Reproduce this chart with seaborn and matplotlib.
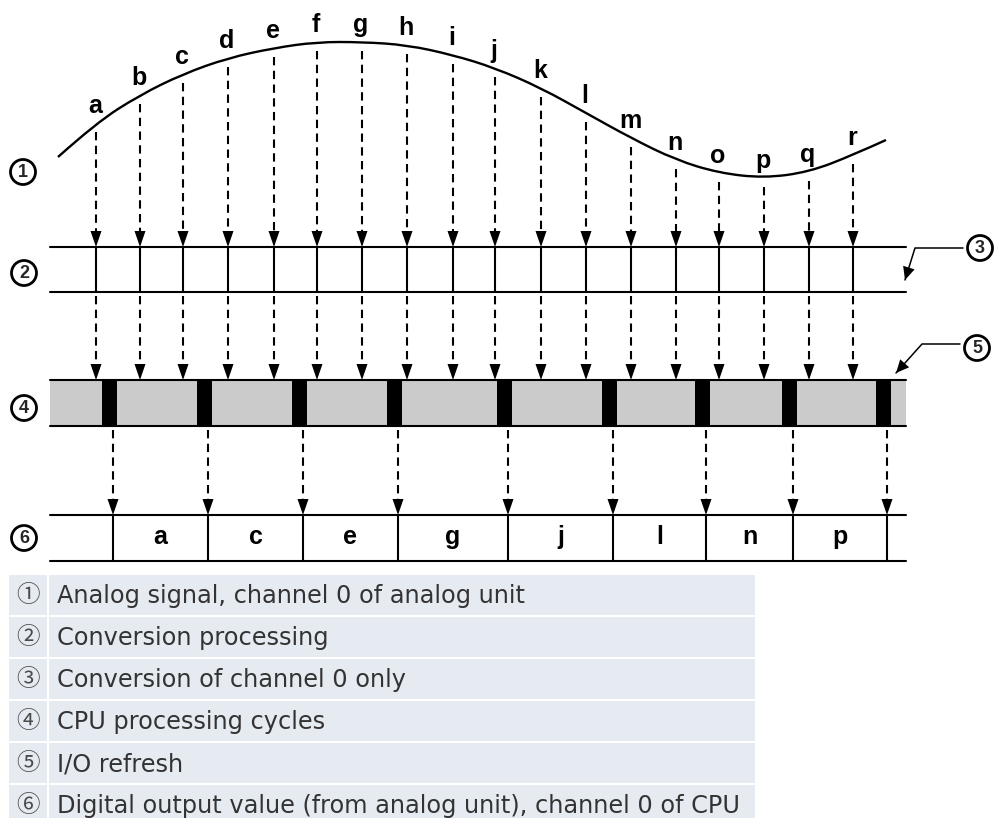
import matplotlib
matplotlib.use("Agg")
import matplotlib.pyplot as plt
import numpy as np
import seaborn as sns
from matplotlib.patches import Circle, PathPatch, Polygon, Rectangle
from matplotlib.path import Path

# sample points of the analog signal (x in px, y in px from top)
sample_labels = list("abcdefghijklmnopqr")
sample_x = [96, 140, 183, 228, 274, 317, 362, 407, 453, 495, 541, 586, 631, 676, 719, 764, 809, 853]
signal_y = [123, 95, 74, 58, 48, 42, 42, 45, 55, 68, 88, 113, 138, 160, 173, 178, 172, 155]
curve_start = (58, 157)
curve_end = (886, 140)

# I/O refresh positions and digital output values
refresh_x = [113, 208, 303, 398, 508, 613, 706, 793, 887]
output_labels = ["a", "c", "e", "g", "j", "l", "n", "p"]

legend_marks = ["①", "②", "③", "④", "⑤", "⑥"]
legend_text = [
    "Analog signal, channel 0 of analog unit",
    "Conversion processing",
    "Conversion of channel 0 only",
    "CPU processing cycles",
    "I/O refresh",
    "Digital output value (from analog unit), channel 0 of CPU",
]

sns.set_theme(style="white")
plt.rcParams["font.family"] = ["DejaVu Sans"]

W, H = 1001, 818
fig = plt.figure(figsize=(W / 100, H / 100), dpi=100)
ax = fig.add_axes([0, 0, 1, 1])
ax.set_xlim(0, W)
ax.set_ylim(H, 0)
ax.axis("off")

LW = 1.5
DASH = (4, 2.6)
LETTER_FONT = dict(family="Liberation Sans", weight="bold", fontsize=18, color="black")

x_left, x_right = 50, 906
row2_top, row2_bot = 247, 292
band_top, band_bot = 380, 426
row6_top, row6_bot = 515, 561


def arrow_head(x, y_tip, length=16, half=5.5):
    ax.add_patch(Polygon([(x - half, y_tip - length), (x + half, y_tip - length), (x, y_tip)],
                         closed=True, color="black", lw=0))


def dashed_down(x, y0, y1):
    ax.plot([x, x], [y0, y1 - 14], color="black", lw=LW, dashes=DASH)
    arrow_head(x, y1)


# analog signal curve (quadratic b-spline through the read points)
pts = [curve_start] + list(zip(sample_x, signal_y)) + [curve_end]
verts = [pts[0]]
codes = [Path.MOVETO]
for i in range(1, len(pts) - 1):
    nxt = pts[i + 1] if i == len(pts) - 2 else ((pts[i][0] + pts[i + 1][0]) / 2, (pts[i][1] + pts[i + 1][1]) / 2)
    verts += [pts[i], nxt]
    codes += [Path.CURVE3, Path.CURVE3]
ax.add_patch(PathPatch(Path(verts, codes), fill=False, lw=LW + 0.2, color="black", capstyle="butt"))

# sample letters + arrows down to conversion row
for lab, x, y in zip(sample_labels, sample_x, signal_y):
    ax.text(x - 1, y - 10, lab, ha="center", va="baseline", **LETTER_FONT)
    dashed_down(x, y + 9, row2_top)
    ax.plot([x, x], [row2_top, row2_bot], color="black", lw=LW)
    dashed_down(x, row2_bot + 4, band_top)

# conversion rows
for y in (row2_top, row2_bot):
    ax.plot([x_left, x_right], [y, y], color="black", lw=LW)

# CPU cycle band with I/O refresh blocks
ax.add_patch(Rectangle((x_left, band_top), x_right - x_left, band_bot - band_top, color="#cbcbcb", lw=0))
for x in refresh_x:
    ax.add_patch(Rectangle((x - 11, band_top), 15, band_bot - band_top, color="black", lw=0))
    dashed_down(x, band_bot + 4, row6_top)
    ax.plot([x, x], [row6_top, row6_bot], color="black", lw=LW)
for y in (band_top, band_bot, row6_top, row6_bot):
    ax.plot([x_left, x_right], [y, y], color="black", lw=LW)

for lab, x0, x1 in zip(output_labels, refresh_x[:-1], refresh_x[1:]):
    ax.text((x0 + x1) / 2, (row6_top + row6_bot) / 2 + 6, lab, ha="center", va="baseline", **LETTER_FONT)

# circled numbers of the diagram
def circled(cx, cy, num):
    ax.add_patch(Circle((cx, cy), 12.5, fill=False, lw=2.0, color="black"))
    ax.text(cx, cy + 0.5, num, ha="center", va="center", family="Liberation Sans",
            weight="bold", fontsize=13)


circled(23, 172, "1")
circled(24, 273, "2")
circled(980, 248, "3")
circled(24, 408, "4")
circled(977, 348, "5")
circled(24, 538, "6")


def leader(p_start, p_knee, p_tip):
    ax.plot([p_start[0], p_knee[0], p_tip[0]], [p_start[1], p_knee[1], p_tip[1]], color="black", lw=1.1)
    d = np.array(p_tip, float) - np.array(p_knee, float)
    d /= np.hypot(*d)
    n = np.array([-d[1], d[0]])
    base = np.array(p_tip) - d * 13
    ax.add_patch(Polygon([base + n * 6, base - n * 6, p_tip], closed=True, color="black", lw=0))


leader((963, 248), (915, 248), (905, 280))
leader((960, 344), (922, 344), (896, 373))

# legend table
row_h, gap = 40, 2
y0 = 575
for i, (mark, text) in enumerate(zip(legend_marks, legend_text)):
    top = y0 + i * (row_h + gap)
    ax.add_patch(Rectangle((9, top), 38, row_h, color="#e6eaf1", lw=0))
    ax.add_patch(Rectangle((49, top), 706, row_h, color="#e6eaf1", lw=0))
    ax.text(28, top + row_h / 2, mark, ha="center", va="center", fontsize=17, color="#4a4a4a",
            family=["Noto Sans CJK JP", "DejaVu Sans"])
    ax.text(57, top + row_h / 2 + 1, text, ha="left", va="center", fontsize=17.3, color="#333333",
            family="DejaVu Sans")

fig.savefig("out.png", dpi=100)
